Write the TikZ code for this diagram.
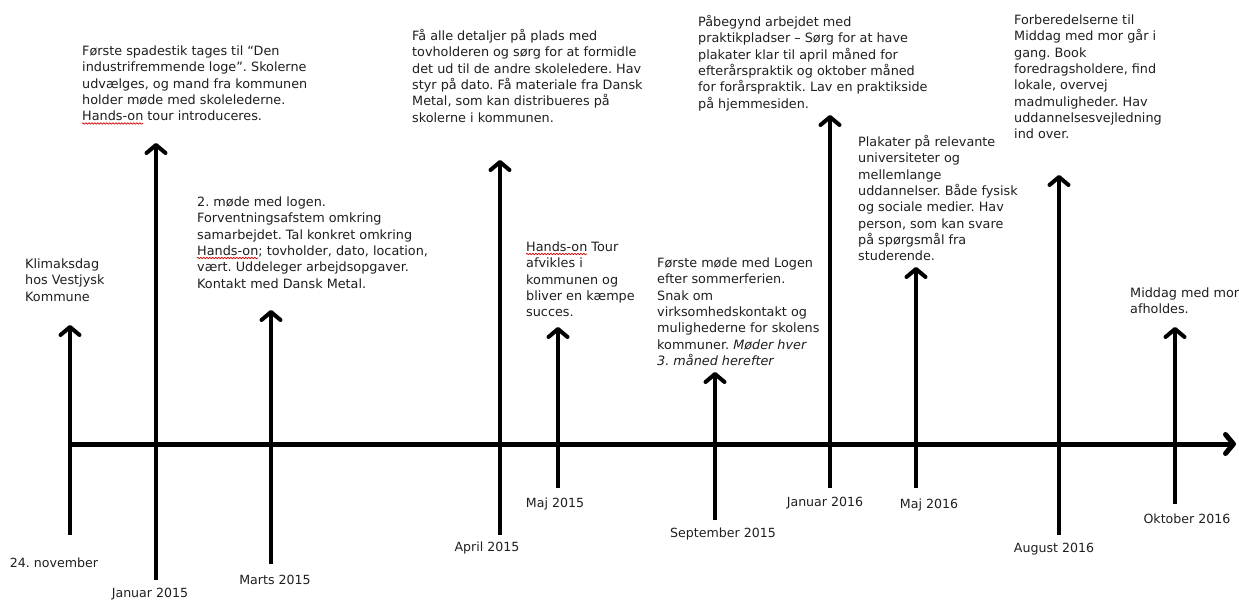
\documentclass[tikz,border=0pt]{standalone}
\usepackage{fontspec}
\setmainfont{DejaVu Sans}
\usetikzlibrary{arrows.meta,decorations.pathmorphing}
\frenchspacing
\begin{document}
\begin{tikzpicture}[x=1pt,y=-1pt,
  txt/.style={anchor=north west, inner sep=0pt, align=left, font=\fontsize{12.8}{16.3}\selectfont, text=black!88},
  datelbl/.style={inner sep=0pt, font=\fontsize{12.6}{14}\selectfont, text=black!88},
  evt/.style={line width=4pt, line join=round, -{Straight Barb[length=8pt,width=19pt,round]}},
  axisline/.style={line width=5pt, line join=round, -{Straight Barb[length=8pt,width=19pt,round]}},
  squiggle/.style={red!85!black, line width=0.7pt, decorate, decoration={snake,amplitude=0.7pt,segment length=3pt}}]
\useasboundingbox[fill=white] (0,0) rectangle (1239,601);

% axis
\coordinate (ax0) at (70,444);
\coordinate (ax1) at (1236,444);
\draw[axisline] (ax0) -- (ax1);

% event arrows: bottom (b) and head (h)
\coordinate (b1) at (70,535);   \coordinate (h1) at (70,325);
\coordinate (b2) at (156,580);  \coordinate (h2) at (156,143);
\coordinate (b3) at (271,564);  \coordinate (h3) at (271,310);
\coordinate (b4) at (500,535);  \coordinate (h4) at (500,160);
\coordinate (b5) at (558,488);  \coordinate (h5) at (558,327);
\coordinate (b6) at (715,520);  \coordinate (h6) at (715,372);
\coordinate (b7) at (830,488);  \coordinate (h7) at (830,115);
\coordinate (b8) at (916,488);  \coordinate (h8) at (916,267);
\coordinate (b9) at (1059,535); \coordinate (h9) at (1059,175);
\coordinate (b10) at (1175,504); \coordinate (h10) at (1175,327);
\foreach \i in {1,...,10} {\draw[evt] (b\i) -- (h\i);}

% date labels
\node[datelbl] (d1) at (54,563) {24. november};
\node[datelbl] (d2) at (150,594) {Januar 2015};
\node[datelbl] (d3) at (275,580) {Marts 2015};
\node[datelbl] (d4) at (487,548) {April 2015};
\node[datelbl] (d5) at (555,504) {Maj 2015};
\node[datelbl] (d6) at (723,534) {September 2015};
\node[datelbl] (d7) at (825,503) {Januar 2016};
\node[datelbl] (d8) at (929,505) {Maj 2016};
\node[datelbl] (d9) at (1054,549) {August 2016};
\node[datelbl] (d10) at (1187,519) {Oktober 2016};

% texts
\node[txt] (t1) at (25,257) {\strut Klimaksdag\\hos Vestjysk\\Kommune};
\node[txt] (t2) at (82,44) {\strut Første spadestik tages til “Den\\industrifremmende loge”. Skolerne\\udvælges, og mand fra kommunen\\holder møde med skolelederne.\\Hands-on tour introduceres.};
\node[txt] (t3) at (197,195) {\strut 2. møde med logen.\\Forventningsafstem omkring\\samarbejdet. Tal konkret omkring\\Hands-on; tovholder, dato, location,\\vært. Uddeleger arbejdsopgaver.\\Kontakt med Dansk Metal.};
\node[txt] (t4) at (412,29) {\strut Få alle detaljer på plads med\\tovholderen og sørg for at formidle\\det ud til de andre skoleledere. Hav\\styr på dato. Få materiale fra Dansk\\Metal, som kan distribueres på\\skolerne i kommunen.};
\node[txt] (t5) at (526,240) {\strut Hands-on Tour\\afvikles i\\kommunen og\\bliver en kæmpe\\succes.};
\node[txt] (t6) at (657,256) {\strut Første møde med Logen\\efter sommerferien.\\Snak om\\virksomhedskontakt og\\mulighederne for skolens\\kommuner. \textit{Møder hver}\\\textit{3. måned herefter}};
\node[txt] (t7) at (698,15) {\strut Påbegynd arbejdet med\\praktikpladser – Sørg for at have\\plakater klar til april måned for\\efterårspraktik og oktober måned\\for forårspraktik. Lav en praktikside\\på hjemmesiden.};
\node[txt] (t8) at (858,135) {\strut Plakater på relevante\\universiteter og\\mellemlange\\uddannelser. Både fysisk\\og sociale medier. Hav\\person, som kan svare\\på spørgsmål fra\\studerende.};
\node[txt] (t9) at (1014,13) {\strut Forberedelserne til\\Middag med mor går i\\gang. Book\\foredragsholdere, find\\lokale, overvej\\madmuligheder. Hav\\uddannelsesvejledning\\ind over.};
\node[txt] (t10) at (1130,286) {\strut Middag med mor\\afholdes.};

% spell-check squiggles under "Hands-on"
\draw[squiggle] (82,123.5) -- (143,123.5);
\draw[squiggle] (197,258) -- (258,258);
\draw[squiggle] (526,254) -- (587,254);
\end{tikzpicture}
\end{document}
